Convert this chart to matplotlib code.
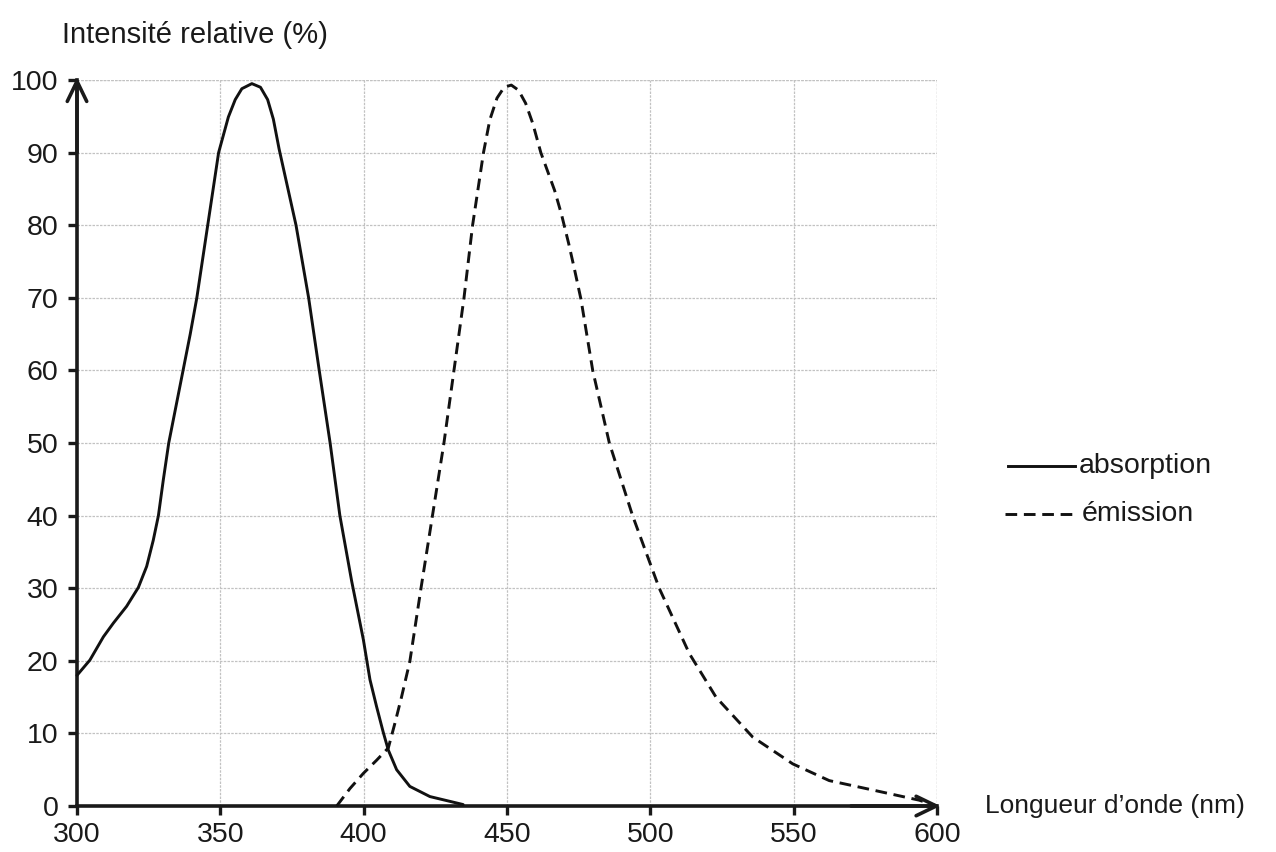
import matplotlib
matplotlib.use("Agg")
import matplotlib.pyplot as plt
from matplotlib.lines import Line2D

plt.rcParams['font.family'] = ['Liberation Sans', 'DejaVu Sans']

# Absorption spectrum (nm, %)
abs_wl = [300, 304.5, 309.2, 312.7, 317.3, 321.4, 324.3, 326.6, 328.4, 330.1, 332,
          334.5, 337, 339.5, 341.8, 345.6, 349.4, 352.8, 355.2, 357.5, 361, 364,
          366.5, 368.5, 370.5, 376.4, 380.8, 384.5, 388.3, 391.7, 395.8, 399.9,
          402.2, 404.5, 406.8, 408.6, 411.5, 416.1, 423.1, 434.7]
abs_val = [18, 20.1, 23.3, 25.2, 27.5, 30.1, 33, 36.6, 40, 44.9, 50,
           55, 60, 65, 70, 80, 90, 94.9, 97.3, 98.8, 99.5, 99,
           97.3, 94.6, 90.5, 80, 70, 60, 50, 40, 31, 22.9,
           17.4, 13.7, 10.2, 7.7, 5, 2.7, 1.3, 0.2]

# Emission spectrum (nm, %)
em_wl = [390.6, 395.2, 399.9, 404.5, 408.6, 410.9, 413.2, 416.1, 420, 424, 428,
         431.5, 435, 438, 441.8, 444, 446.5, 449, 451.5, 454, 456.5, 459,
         461.8, 466.6, 469, 471.5, 473.5, 475.8, 479.9, 485.7, 493.8, 503.1,
         513.6, 522.9, 535.7, 549.7, 562.4, 577.6, 593.8, 600]
em_val = [0, 2.4, 4.5, 6.3, 8, 11.4, 15, 19.9, 30, 40, 50,
          60, 70, 80, 90, 94.5, 97.5, 99, 99.3, 98.6, 96.8, 94,
          90, 84.8, 81.5, 77.5, 74, 69.8, 60, 50, 40, 30,
          21, 15, 9.5, 5.8, 3.5, 2.2, 0.8, 0]

x_ticks = [300, 350, 400, 450, 500, 550, 600]
y_ticks = [0, 10, 20, 30, 40, 50, 60, 70, 80, 90, 100]

INK = '#1a1a1a'
GRID = '#c2c2c2'
FS = 20.5

fig = plt.figure(figsize=(12.76, 8.52), dpi=100)
ax = fig.add_axes([77/1276, 46/852, 860/1276, 726/852])
ax.set_xlim(300, 600)
ax.set_ylim(0, 100)

ax.set_xticks(x_ticks)
ax.set_yticks(y_ticks)
ax.tick_params(axis='both', direction='out', length=6.5, width=2.4, labelsize=FS,
               colors=INK)
ax.tick_params(axis='y', pad=7)
ax.tick_params(axis='x', pad=5)
ax.grid(True, color=GRID, linewidth=0.9, linestyle=(0, (2, 1)))
ax.set_axisbelow(True)
for s in ['top', 'right']:
    ax.spines[s].set_visible(False)
for s in ['left', 'bottom']:
    ax.spines[s].set_linewidth(2.6)
    ax.spines[s].set_color(INK)
ax.axvline(600, color=GRID, linewidth=0.9, linestyle=(0, (2, 1)), zorder=0.5)
ax.axhline(100, color=GRID, linewidth=0.9, linestyle=(0, (2, 1)), zorder=0.5)

ax.plot(abs_wl, abs_val, color='#111111', linewidth=2.1, solid_capstyle='round',
        solid_joinstyle='round', clip_on=False, zorder=3)
ax.plot(em_wl, em_val, color='#111111', linewidth=2.1, linestyle=(0, (4, 2.3)),
        dash_joinstyle='round', clip_on=False, zorder=3)

# axis arrowheads
arrow = dict(arrowstyle='->,head_length=1.45,head_width=0.7',
             lw=2.6, color=INK, shrinkA=0, shrinkB=0)
ax.annotate('', xy=(0, 1.004), xytext=(0, 0.9), xycoords='axes fraction',
            arrowprops=arrow)
ax.annotate('', xy=(1.004, 0), xytext=(0.9, 0), xycoords='axes fraction',
            arrowprops=arrow)

# axis labels
fig.text(62/1276, 1 - 35/852, 'Intensité relative (%)', fontsize=21,
         ha='left', va='center', color=INK)
fig.text(985/1276, 1 - 806/852, 'Longueur d\u2019onde (nm)', fontsize=19,
         ha='left', va='center', color=INK)

# legend
fig.add_artist(Line2D([1008/1276, 1075/1276], [1 - 466/852, 1 - 466/852],
                      color='#111111', linewidth=2.1))
fig.add_artist(Line2D([1005/1276, 1074/1276], [1 - 514/852, 1 - 514/852],
                      color='#111111', linewidth=2.1, linestyle=(0, (4, 2.3))))
fig.text(1079/1276, 1 - 466/852, 'absorption', fontsize=FS, ha='left', va='center',
         color=INK)
fig.text(1082/1276, 1 - 514/852, 'émission', fontsize=FS, ha='left', va='center',
         color=INK)

fig.savefig('out.png', dpi=100)
